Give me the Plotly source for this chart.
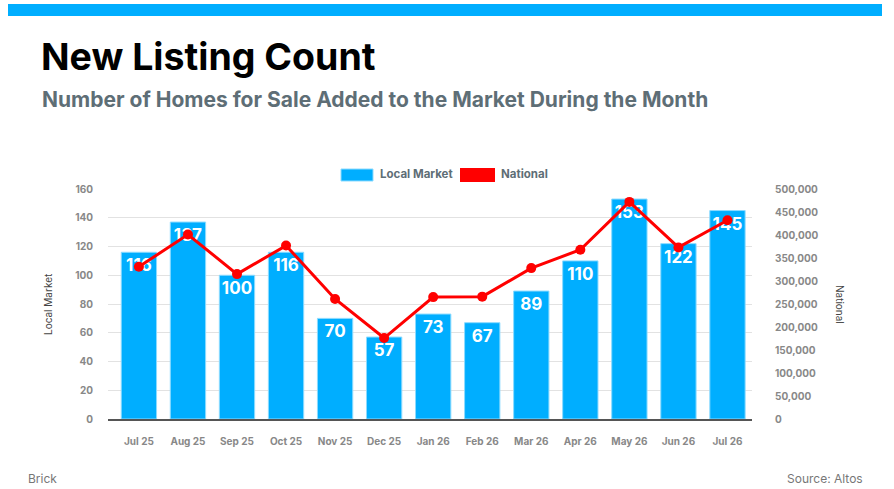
import plotly.graph_objects as go

# Chart data
months = ['Jul 25', 'Aug 25', 'Sep 25', 'Oct 25', 'Nov 25', 'Dec 25', 'Jan 26',
          'Feb 26', 'Mar 26', 'Apr 26', 'May 26', 'Jun 26', 'Jul 26']
local_market = [116, 137, 100, 116, 70, 57, 73, 67, 89, 110, 153, 122, 145]
national = [331000, 401000, 315000, 377000, 261000, 176000, 265000,
            266000, 328000, 368000, 472000, 373000, 432000]

BLUE = '#00AEFF'
RED = '#FF0000'
FONT = 'Inter, Lato, sans-serif'

# Plot area in pixels (used to place the hand-drawn legend)
W, H = 894, 489
L, R, T, B = 108, 142, 189, 70

fig = go.Figure()

fig.add_trace(go.Bar(
    x=months,
    y=local_market,
    name='Local Market',
    marker=dict(color=BLUE, line=dict(color='#8CDBFF', width=1)),
    text=local_market,
    textposition='inside',
    insidetextanchor='end',
    textangle=0,
    constraintext='none',
    textfont=dict(family=FONT, size=17, color='white', weight='bold'),
    showlegend=False,
))

fig.add_trace(go.Scatter(
    x=months,
    y=national,
    name='National',
    yaxis='y2',
    mode='lines+markers',
    line=dict(color=RED, width=3),
    marker=dict(color=RED, size=10),
    showlegend=False,
))


def px_x(px):
    return (px - L) / (W - L - R)


def px_y(py):
    return (H - B - py) / (H - T - B)


shapes = [
    # top blue band
    dict(type='rect', xref='paper', yref='paper',
         x0=px_x(8), x1=px_x(882), y0=px_y(16), y1=px_y(4),
         fillcolor=BLUE, line=dict(width=0)),
    # legend swatches
    dict(type='rect', xref='paper', yref='paper',
         x0=px_x(341), x1=px_x(373), y0=px_y(181), y1=px_y(169),
         fillcolor=BLUE, line=dict(color='#8CDBFF', width=1)),
    dict(type='rect', xref='paper', yref='paper',
         x0=px_x(460), x1=px_x(495), y0=px_y(182), y1=px_y(168),
         fillcolor=RED, line=dict(width=0)),
]

annotations = [
    dict(text='<b>New Listing Count</b>', x=px_x(39), y=px_y(56),
         font=dict(family=FONT, size=37.5, color='black')),
    dict(text='<b>Number of Homes for Sale Added to the Market During the Month</b>',
         x=px_x(40), y=px_y(99),
         font=dict(family=FONT, size=21, color='#5E6E76')),
    dict(text='<b>Local Market</b>', x=px_x(378), y=px_y(174),
         font=dict(family=FONT, size=11.5, color='#5E6E76')),
    dict(text='<b>National</b>', x=px_x(499), y=px_y(174),
         font=dict(family=FONT, size=11.5, color='#5E6E76')),
    dict(text='Local Market', x=px_x(48), y=px_y(304), textangle=-90,
         xanchor='center', font=dict(family=FONT, size=10, color='#444')),
    dict(text='National', x=px_x(840), y=px_y(304), textangle=90,
         xanchor='center', font=dict(family=FONT, size=10, color='#444')),
    dict(text='Brick', x=px_x(26), y=px_y(478),
         font=dict(family=FONT, size=12, color='#777')),
    dict(text='Source: Altos', x=px_x(865), y=px_y(478), xanchor='right',
         font=dict(family=FONT, size=12, color='#777')),
]
for a in annotations:
    a.setdefault('xanchor', 'left')
    a.update(xref='paper', yref='paper', yanchor='middle', showarrow=False)

tick_font = dict(family=FONT, size=10, color='#888', weight='bold')

fig.update_layout(
    width=W,
    height=H,
    margin=dict(l=L, r=R, t=T, b=B, pad=0, autoexpand=False),
    paper_bgcolor='white',
    plot_bgcolor='white',
    bargap=0.28,
    shapes=shapes,
    annotations=annotations,
    xaxis=dict(
        range=[-0.63, 12.5],
        tickfont=tick_font,
        showline=True, linecolor='#555', linewidth=1.5,
        ticks='', ticklabelstandoff=12,
    ),
    yaxis=dict(
        range=[0, 160], dtick=20,
        tickfont=tick_font,
        showgrid=True, gridcolor='#E2E2E2', gridwidth=1,
        zeroline=False, ticklabelstandoff=14,
    ),
    yaxis2=dict(
        range=[0, 500000], dtick=50000, tickformat=',',
        overlaying='y', side='right',
        tickfont=tick_font,
        showgrid=False, zeroline=False, ticklabelstandoff=22,
    ),
)

# drop the page's default body margin so the figure fills the window
fig.write_html('out.html', config={'displayModeBar': False},
               post_script="document.body.style.margin='0';")
